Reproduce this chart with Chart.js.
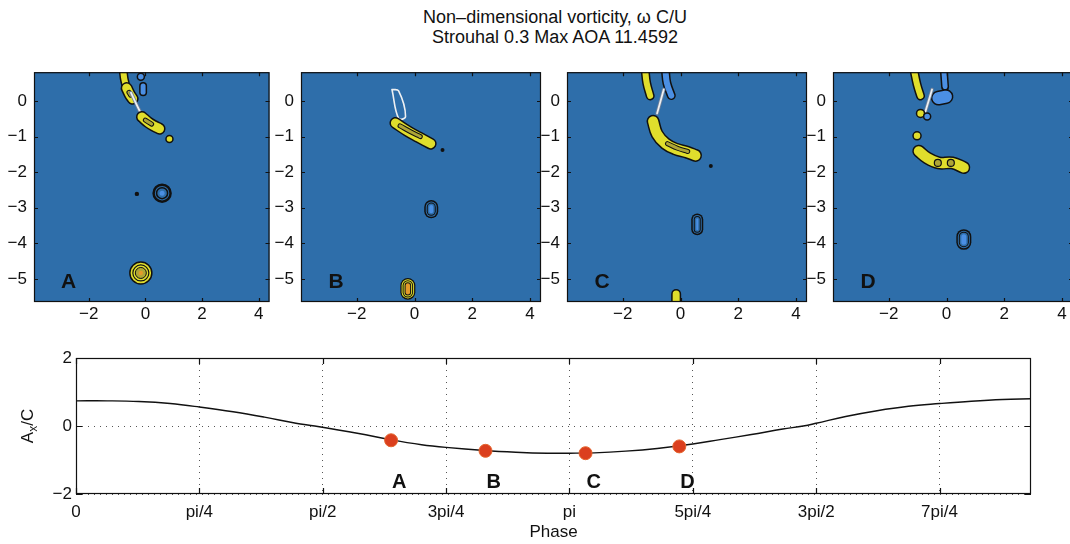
<!DOCTYPE html>
<html><head><meta charset="utf-8">
<script src="https://cdn.jsdelivr.net/npm/chart.js@4.4.1/dist/chart.umd.min.js"></script>
<style>
html,body{margin:0;padding:0;background:#fff;width:1070px;height:544px;overflow:hidden;position:relative;}
canvas{position:absolute;}
#title{position:absolute;left:355px;width:400px;top:7px;text-align:center;font:18px 'Liberation Sans',Arial,sans-serif;line-height:20px;color:#111;}
</style></head><body>
<div id="title">Non–dimensional vorticity, ω C/U<br>Strouhal 0.3 Max AOA 11.4592</div>
<canvas id="pA"></canvas><canvas id="pB"></canvas><canvas id="pC"></canvas><canvas id="pD"></canvas>
<canvas id="phase"></canvas>
<script>
// ---------- data: vorticity panels (x, y in chord lengths) ----------
const panelXTicks = [-2, 0, 2, 4];
const panelYTicks = [-5, -4, -3, -2, -1, 0];
const panelXRange = [-3.93, 4.38];
const panelYRange = [-5.645, 0.806];
const panelLetters = ['A', 'B', 'C', 'D'];

const A_wakeTip = [[-0.78, 0.84], [-0.74, 0.60], [-0.66, 0.36], [-0.52, 0.12]];
const A_wakeBlob = [[-0.66, 0.36], [-0.55, 0.18], [-0.45, 0.06]];
const A_wakeBlobCore = [[-0.58, 0.24], [-0.52, 0.16]];
const A_blueSpot = [[-0.16, 0.68]];
const A_blueStreak = [[-0.08, 0.42], [-0.08, 0.24]];
const A_foil = [[-0.51, 0.23], [-0.16, -0.35]];
const A_shedSheet = [[-0.12, -0.45], [0.10, -0.60], [0.30, -0.70], [0.50, -0.78]];
const A_shedCore = [[0.00, -0.54], [0.22, -0.65]];
const A_smallPos = [[0.85, -1.07]];
const A_dot = [[-0.30, -2.61]];
const A_negVortex = [[0.59, -2.59]];
const A_posVortex = [[-0.16, -4.83]];

const B_foilOutline = [[-0.78, 0.32], [-0.55, 0.28], [-0.31, -0.44], [-0.55, -0.49], [-0.78, 0.32]];
const B_sheet = [[-0.66, -0.62], [-0.25, -0.84], [0.15, -1.02], [0.56, -1.20]];
const B_sheetCore = [[-0.50, -0.70], [-0.10, -0.88], [0.20, -1.00]];
const B_dot = [[0.97, -1.38]];
const B_negVortex = [[0.58, -2.98], [0.58, -3.10]];
const B_posVortex = [[-0.23, -5.18], [-0.23, -5.37]];

const C_wakeYellow = [[-1.22, 0.84], [-1.17, 0.50], [-1.05, 0.14]];
const C_wakeBlue = [[-0.52, 0.84], [-0.47, 0.50], [-0.32, 0.15]];
const C_foil = [[-0.58, 0.32], [-0.81, -0.35]];
const C_sheet = [[-0.95, -0.57], [-0.81, -0.93], [-0.52, -1.20], [-0.17, -1.35], [0.23, -1.44], [0.52, -1.53]];
const C_sheetCore = [[-0.45, -1.20], [-0.10, -1.33], [0.25, -1.42]];
const C_dot = [[1.05, -1.83]];
const C_negVortex = [[0.58, -3.33], [0.58, -3.60]];
const C_posBlob = [[-0.15, -5.42], [-0.15, -5.80]];

const D_wakeYellow = [[-1.12, 0.84], [-1.02, 0.46], [-0.90, 0.14]];
const D_blueStem = [[-0.09, 0.84], [-0.05, 0.40]];
const D_blueBlob = [[-0.28, 0.08], [-0.02, 0.12]];
const D_foil = [[-0.50, 0.32], [-0.73, -0.30]];
const D_smallPos = [[-0.90, -0.35], [-1.02, -0.98]];
const D_smallNeg = [[-0.67, -0.44]];
const D_sheet = [[-0.96, -1.41], [-0.67, -1.60], [-0.27, -1.74], [0.20, -1.74], [0.60, -1.87]];
const D_sheetRings = [[-0.30, -1.74], [0.15, -1.74]];
const D_negVortex = [[0.60, -3.81], [0.60, -3.97]];

// ---------- data: phase plot ----------
const phaseTickLabels = ['0', 'pi/4', 'pi/2', '3pi/4', 'pi', '5pi/4', '3pi/2', '7pi/4'];
const phaseTicks = phaseTickLabels.map((_, k) => k * Math.PI / 4);
const phaseMax = 6.08;
const axTicks = [-2, 0, 2];
const phase = [0, 0.2, 0.4, 0.6, 0.785, 1.0, 1.2, 1.4, 1.52, 1.8, 2.0, 2.2, 2.356, 2.6, 2.8, 3.0, 3.142, 3.3, 3.5, 3.7, 3.927, 4.1, 4.3, 4.5, 4.63, 4.712, 4.9, 5.1, 5.3, 5.498, 5.7, 5.9, 6.08];
const axOverC = [0.74, 0.74, 0.72, 0.66, 0.56, 0.42, 0.26, 0.08, 0.0, -0.22, -0.40, -0.55, -0.63, -0.72, -0.77, -0.80, -0.80, -0.79, -0.74, -0.66, -0.53, -0.40, -0.25, -0.09, 0.0, 0.08, 0.28, 0.45, 0.58, 0.66, 0.73, 0.78, 0.80];
const markerLabels = ['A', 'B', 'C', 'D'];
const markerPhase = [2.006, 2.607, 3.244, 3.841];
const markerAx = [-0.42, -0.73, -0.80, -0.60];

// ---------- styles ----------
const FONT = "'Liberation Sans', Arial, Helvetica, sans-serif";
const BG = '#2e6eaa', YEL = '#e0de2c', OLV = '#aea636', ORG = '#e39a2a', LBL = '#4b8fe3', INK = '#111', WHT = '#eef0f2';

const toXY = pts => pts.map(([x, y]) => ({x, y}));
const line = (p, color, w) => ({data: toXY(p), showLine: true, borderColor: color, borderWidth: w, pointRadius: 0, tension: 0.4, borderCapStyle: 'round', borderJoinStyle: 'round', clip: 0, fill: false});
const dots = (p, r, fill, edge, bw) => ({data: toXY(p), showLine: false, pointRadius: r, pointBackgroundColor: fill, pointBorderColor: edge || fill, pointBorderWidth: bw || 0, clip: 0});

const posSheet = (p, w) => [line(p, INK, w + 3), line(p, YEL, w)];
const posCore = (p, w) => [line(p, INK, w + 2), line(p, OLV, w)];
const negSheet = (p, w) => [line(p, INK, w + 3), line(p, LBL, w)];
const foil = p => [line(p, '#6d7f99', 3.5), line(p, WHT, 1.8)];
const outline = p => [line(p, WHT, 1.6)];
const negVortex = (p, w) => [line(p, INK, w), line(p, BG, w - 3), line(p, INK, w - 5), line(p, BG, w - 7), line(p, LBL, Math.max(2, w - 10))];
const posVortex = (p, w) => [line(p, INK, w), line(p, YEL, w - 2.5), line(p, INK, w - 4.5), line(p, YEL, w - 6.5), line(p, INK, w - 8.5), line(p, ORG, Math.max(2, w - 10.5))];
const negDotVortex = (p, r) => [dots(p, r, BG, INK, 2.5), dots(p, r - 3, BG, INK, 1.5), dots(p, 2.5, LBL)];
const posDotVortex = (p, r) => [dots(p, r, YEL, INK, 1.5), dots(p, r - 3, YEL, INK, 1.2), dots(p, r - 5.5, OLV, INK, 1), dots(p, 2.2, ORG)];
const posSpot = (p, r) => [dots(p, r, YEL, INK, 1.5)];
const negSpot = (p, r) => [dots(p, r, LBL, INK, 1.5)];
const ringSpot = (p, r) => [dots(p, r, OLV, INK, 1.2)];
const darkDot = (p, r) => [dots(p, r, INK)];

const panelFeatures = {
  A: [posSheet(A_wakeTip, 6), posSheet(A_wakeBlob, 9), posCore(A_wakeBlobCore, 3), negSpot(A_blueSpot, 3.5), negSheet(A_blueStreak, 5), foil(A_foil),
      posSheet(A_shedSheet, 9), posCore(A_shedCore, 3), posSpot(A_smallPos, 3.5), darkDot(A_dot, 2.2), negDotVortex(A_negVortex, 8.5), posDotVortex(A_posVortex, 11)],
  B: [outline(B_foilOutline), posSheet(B_sheet, 9), posCore(B_sheetCore, 3), darkDot(B_dot, 2), negVortex(B_negVortex, 14), posVortex(B_posVortex, 15)],
  C: [posSheet(C_wakeYellow, 6), negSheet(C_wakeBlue, 6), foil(C_foil), posSheet(C_sheet, 10), posCore(C_sheetCore, 3), darkDot(C_dot, 2), negVortex(C_negVortex, 12), posSheet(C_posBlob, 7)],
  D: [posSheet(D_wakeYellow, 6), negSheet(D_blueStem, 5), negSheet(D_blueBlob, 12), foil(D_foil), posSpot(D_smallPos, 4), negSpot(D_smallNeg, 3.5),
      posSheet(D_sheet, 10), ringSpot(D_sheetRings, 3.5), negVortex(D_negVortex, 15)]
};
const panelLefts = [34, 301, 567, 833];
const letterAnchor = [-2.98, -5.26];

const fmtNum = v => v < 0 ? '\u2212' + Math.abs(v) : String(v);

function panelPlugin(letter) {
  return {
    id: 'panelDeco',
    beforeDatasetsDraw(chart) {
      const {ctx, chartArea: a} = chart;
      ctx.save(); ctx.fillStyle = BG; ctx.fillRect(a.left, a.top, a.right - a.left, a.bottom - a.top); ctx.restore();
    },
    afterDraw(chart) {
      const {ctx, chartArea: a, scales: {x, y}} = chart;
      ctx.save();
      ctx.strokeStyle = INK; ctx.lineWidth = 1.2;
      ctx.strokeRect(a.left + 0.5, a.top + 0.5, a.right - a.left - 1, a.bottom - a.top - 1);
      ctx.beginPath();
      for (const v of panelXTicks) {
        const px = Math.round(x.getPixelForValue(v)) + 0.5;
        ctx.moveTo(px, a.bottom); ctx.lineTo(px, a.bottom - 4);
        ctx.moveTo(px, a.top); ctx.lineTo(px, a.top + 4);
      }
      for (const v of panelYTicks) {
        const py = Math.round(y.getPixelForValue(v)) + 0.5;
        ctx.moveTo(a.left, py); ctx.lineTo(a.left + 4, py);
        ctx.moveTo(a.right, py); ctx.lineTo(a.right - 4, py);
      }
      ctx.stroke();
      ctx.font = 'bold 21px ' + FONT; ctx.fillStyle = INK; ctx.textAlign = 'left'; ctx.textBaseline = 'alphabetic';
      ctx.fillText(letter, x.getPixelForValue(letterAnchor[0]), y.getPixelForValue(letterAnchor[1]));
      ctx.restore();
    }
  };
}

panelLetters.forEach((letter, i) => {
  const cv = document.getElementById('p' + letter);
  cv.width = 34 + 240 + 8; cv.height = 280;
  cv.style.left = (panelLefts[i] - 34) + 'px'; cv.style.top = '55px';
  const ds = [];
  panelFeatures[letter].forEach(f => ds.push(...f));
  ds.reverse();
  new Chart(cv, {
    type: 'scatter',
    data: {datasets: ds},
    options: {
      responsive: false, animation: false, events: [],
      layout: {padding: {left: 0, right: 8, top: 7, bottom: 0}},
      plugins: {legend: {display: false}, tooltip: {enabled: false}},
      scales: {
        x: {type: 'linear', min: panelXRange[0], max: panelXRange[1],
            afterBuildTicks: s => { s.ticks = panelXTicks.map(v => ({value: v})); },
            afterFit: s => { s.height = 33; },
            grid: {display: false, drawTicks: false}, border: {display: false},
            ticks: {callback: v => fmtNum(v), font: {family: FONT, size: 17}, color: INK, padding: 2, maxRotation: 0, autoSkip: false}},
        y: {type: 'linear', min: panelYRange[0], max: panelYRange[1],
            afterBuildTicks: s => { s.ticks = panelYTicks.map(v => ({value: v})); },
            afterFit: s => { s.width = 34; },
            grid: {display: false, drawTicks: false}, border: {display: false},
            ticks: {callback: v => fmtNum(v), font: {family: FONT, size: 17}, color: INK, padding: 7, autoSkip: false}}
      }
    },
    plugins: [panelPlugin(letter)]
  });
});

// ---------- phase plot ----------
const phaseDeco = {
  id: 'phaseDeco',
  afterDraw(chart) {
    const {ctx, chartArea: a, scales: {x, y}} = chart;
    ctx.save();
    ctx.strokeStyle = INK; ctx.lineWidth = 1.2;
    ctx.strokeRect(a.left + 0.5, a.top + 0.5, a.right - a.left - 1, a.bottom - a.top - 1);
    ctx.beginPath();
    for (const v of phaseTicks) {
      const px = Math.round(x.getPixelForValue(v)) + 0.5;
      ctx.moveTo(px, a.bottom); ctx.lineTo(px, a.bottom - 6);
      ctx.moveTo(px, a.top); ctx.lineTo(px, a.top + 6);
    }
    for (const v of axTicks) {
      const py = Math.round(y.getPixelForValue(v)) + 0.5;
      ctx.moveTo(a.left, py); ctx.lineTo(a.left + 6, py);
      ctx.moveTo(a.right, py); ctx.lineTo(a.right - 6, py);
    }
    ctx.stroke();
    // marker letters
    ctx.font = 'bold 20px ' + FONT; ctx.fillStyle = INK; ctx.textAlign = 'left'; ctx.textBaseline = 'alphabetic';
    markerLabels.forEach((t, i) => ctx.fillText(t, x.getPixelForValue(markerPhase[i]) + 1, y.getPixelForValue(-1.83)));
    // y-axis title A_x/C (rotated, with subscript)
    ctx.translate(33, (a.top + a.bottom) / 2);
    ctx.rotate(-Math.PI / 2);
    const big = '17px ' + FONT, small = '12px ' + FONT;
    ctx.font = big; const wA = ctx.measureText('A').width, wC = ctx.measureText('/C').width;
    ctx.font = small; const wx = ctx.measureText('x').width;
    let s = -(wA + wx + wC) / 2;
    ctx.font = big; ctx.fillText('A', s, 0); s += wA;
    ctx.font = small; ctx.fillText('x', s, 4); s += wx;
    ctx.font = big; ctx.fillText('/C', s, 0);
    ctx.restore();
  }
};

const pc = document.getElementById('phase');
pc.width = 1070; pc.height = 204; pc.style.left = '0px'; pc.style.top = '340px';
new Chart(pc, {
  type: 'scatter',
  data: {datasets: [
    {data: markerPhase.map((p, i) => ({x: p, y: markerAx[i]})), showLine: false, pointRadius: 6.5, pointBackgroundColor: '#db3f1e', pointBorderColor: '#e4652e', pointBorderWidth: 1},
    {data: phase.map((p, i) => ({x: p, y: axOverC[i]})), showLine: true, borderColor: INK, borderWidth: 1.4, pointRadius: 0, tension: 0.4, fill: false}
  ]},
  options: {
    responsive: false, animation: false, events: [],
    layout: {padding: {left: 0, right: 39, top: 18, bottom: 0}},
    plugins: {legend: {display: false}, tooltip: {enabled: false}},
    scales: {
      x: {type: 'linear', min: 0, max: phaseMax,
          afterBuildTicks: s => { s.ticks = phaseTicks.map(v => ({value: v})); },
          afterFit: s => { s.height = 50; },
          grid: {display: true, color: '#555', lineWidth: 1, drawTicks: false}, border: {display: false, dash: [1, 5]},
          ticks: {callback: (v, i) => phaseTickLabels[i], font: {family: FONT, size: 17}, color: INK, padding: 8, maxRotation: 0, autoSkip: false},
          title: {display: true, text: 'Phase', font: {family: FONT, size: 17}, color: INK, padding: {top: 0, bottom: 1}}},
      y: {type: 'linear', min: -2, max: 2,
          afterBuildTicks: s => { s.ticks = axTicks.map(v => ({value: v})); },
          afterFit: s => { s.width = 76; },
          grid: {display: true, color: '#555', lineWidth: 1, drawTicks: false}, border: {display: false, dash: [1, 5]},
          ticks: {callback: v => fmtNum(v), font: {family: FONT, size: 17}, color: INK, padding: 4, autoSkip: false}}
    }
  },
  plugins: [phaseDeco]
});
</script>
</body></html>
